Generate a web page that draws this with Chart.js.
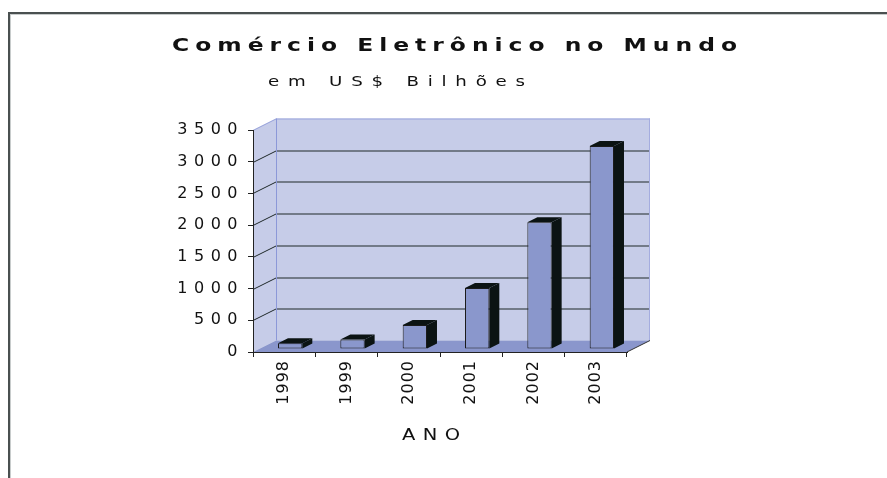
<!DOCTYPE html>
<html>
<head>
<meta charset="utf-8">
<script src="https://cdn.jsdelivr.net/npm/chart.js@4/dist/chart.umd.min.js"></script>
<style>
  html, body { margin: 0; padding: 0; background: #fff; }
  canvas { display: block; }
</style>
</head>
<body>
<canvas id="grafico" width="887" height="478"></canvas>
<script>
const anos = ['1998', '1999', '2000', '2001', '2002', '2003'];
const valores = [90, 150, 380, 960, 2000, 3200];
const escalaMax = 3500;
const escalaPasso = 500;
const titulo = 'Comércio Eletrônico no Mundo';
const subtitulo = 'em US$ Bilhões';
const tituloEixoX = 'ANO';

// 3D look: walls sit behind the front plane, bars sit half way in
const parede = { dx: 23, dy: -11.5 };
const barraDesloc = { dx: 6, dy: -3 };
const barraFundo = { dx: 10, dy: -5 };

const corParede = '#c6cce8';
const corChao = '#8a96cc';
const corBarra = '#8a97cc';
const corEscura = '#0b1313';

function poly(ctx, pts, fill) {
    ctx.beginPath();
    ctx.moveTo(pts[0][0], pts[0][1]);
    for (let i = 1; i < pts.length; i++) ctx.lineTo(pts[i][0], pts[i][1]);
    ctx.closePath();
    ctx.fillStyle = fill;
    ctx.fill();
}

function linha(ctx, x1, y1, x2, y2, cor) {
    ctx.beginPath();
    ctx.moveTo(x1, y1);
    ctx.lineTo(x2, y2);
    ctx.strokeStyle = cor;
    ctx.lineWidth = 1;
    ctx.stroke();
}

// wide, stretched text like the old bitmap fonts: fits the text between x0 and x1
function textoLargo(ctx, txt, x0, x1, base, font, esticar) {
    ctx.save();
    ctx.font = font;
    ctx.letterSpacing = '0px';
    const w = ctx.measureText(txt).width;
    const ls = ((x1 - x0) / esticar - w) / (txt.length - 1);
    ctx.translate(x0, base);
    ctx.scale(esticar, 1);
    ctx.letterSpacing = ls + 'px';
    ctx.textAlign = 'left';
    ctx.textBaseline = 'alphabetic';
    ctx.fillStyle = '#111';
    ctx.fillText(txt, 0, 0);
    ctx.restore();
}

const grafico3d = {
    id: 'grafico3d',
    beforeDraw(chart) {
        const ctx = chart.ctx;
        const { left, right, top, bottom } = chart.chartArea;
        const dx = parede.dx, dy = parede.dy;

        ctx.save();
        // moldura
        ctx.fillStyle = '#4a5050';
        ctx.fillRect(8, 12, 879, 2);
        ctx.fillRect(8, 12, 2, 466);
        ctx.fillStyle = '#c8cccc';
        ctx.fillRect(10, 14, 877, 1);
        ctx.fillRect(10, 14, 1, 464);

        // paredes e chão
        poly(ctx, [[left + dx, top + dy], [right + dx, top + dy], [right + dx, bottom + dy], [left + dx, bottom + dy]], corParede);
        poly(ctx, [[left, top], [left + dx, top + dy], [left + dx, bottom + dy], [left, bottom]], corParede);
        poly(ctx, [[left, bottom], [right, bottom], [right + dx, bottom + dy], [left + dx, bottom + dy]], corChao);

        // grade no fundo e na lateral
        const y = chart.scales.y;
        y.ticks.forEach(t => {
            if (t.value === 0 || t.value === escalaMax) return;
            const py = Math.round(y.getPixelForValue(t.value)) + 0.5;
            linha(ctx, left + dx, py + dy, right + dx, py + dy, '#1e2828');
            linha(ctx, left, py, left + dx, py + dy, '#1e2828');
        });
        const pTopo = Math.round(top) + 0.5;
        linha(ctx, left + dx, pTopo + dy, right + dx, pTopo + dy, '#9aa4dc');
        linha(ctx, left, pTopo, left + dx, pTopo + dy, '#9aa4dc');
        linha(ctx, left + dx + 0.5, top + dy, left + dx + 0.5, bottom + dy, '#8c98d8');
        linha(ctx, right + dx - 0.5, top + dy, right + dx - 0.5, bottom + dy, '#a4acdf');
        linha(ctx, right, bottom, right + dx, bottom + dy, '#333');
        ctx.restore();

        // títulos
        textoLargo(ctx, titulo, 172, 737, 51, 'bold 18px "DejaVu Sans"', 1.3);
        textoLargo(ctx, subtitulo, 268, 525, 86, '14px "DejaVu Sans"', 1.3);
        textoLargo(ctx, tituloEixoX, 402, 460, 440, '15px "DejaVu Sans"', 1.3);

        // espaçamento dos rótulos do eixo y
        ctx.letterSpacing = '6.5px';
    },
    beforeDatasetsDraw(chart) {
        chart.ctx.save();
        chart.ctx.translate(barraDesloc.dx, barraDesloc.dy);
    },
    afterDatasetsDraw(chart) {
        const ctx = chart.ctx;
        const meta = chart.getDatasetMeta(0);
        meta.data.forEach(bar => {
            const { x, y, base, width } = bar.getProps(['x', 'y', 'base', 'width'], true);
            const l = x - width / 2, r = x + width / 2;
            const fx = barraFundo.dx, fy = barraFundo.dy;
            poly(ctx, [[l, y], [l + fx, y + fy], [r + fx, y + fy], [r, y]], corEscura);
            poly(ctx, [[r, y], [r + fx, y + fy], [r + fx, base + fy], [r, base]], corEscura);
        });
        ctx.restore();
        // espaçamento dos rótulos do eixo x
        ctx.letterSpacing = '1px';
    }
};

new Chart(document.getElementById('grafico'), {
    type: 'bar',
    data: {
        labels: anos,
        datasets: [{
            data: valores,
            backgroundColor: corBarra,
            borderColor: '#1a1a1a',
            borderWidth: 1,
            borderSkipped: false,
            categoryPercentage: 1,
            barPercentage: 0.39,
        }],
    },
    options: {
        responsive: false,
        animation: false,
        devicePixelRatio: 1,
        layout: { padding: { left: 0, right: 260, top: 130, bottom: 0 } },
        plugins: {
            legend: { display: false },
            tooltip: { enabled: false },
            title: { display: false },
        },
        scales: {
            x: {
                afterFit: s => { s.height = 126; },
                grid: { drawOnChartArea: false, drawTicks: true, tickLength: 5, color: '#222' },
                border: { display: true, color: '#222', width: 1 },
                ticks: {
                    z: 1,
                    minRotation: 90,
                    maxRotation: 90,
                    padding: 3,
                    color: '#111',
                    font: { family: 'DejaVu Sans', size: 16 },
                },
            },
            y: {
                min: 0,
                max: escalaMax,
                afterFit: s => { s.width = 253; },
                grid: { drawOnChartArea: false, drawTicks: true, tickLength: 5, color: '#222' },
                border: { display: true, color: '#222', width: 1 },
                ticks: {
                    stepSize: escalaPasso,
                    padding: 4,
                    color: '#111',
                    font: { family: 'DejaVu Sans', size: 16 },
                    callback: v => String(v),
                },
            },
        },
    },
    plugins: [grafico3d],
});
</script>
</body>
</html>
